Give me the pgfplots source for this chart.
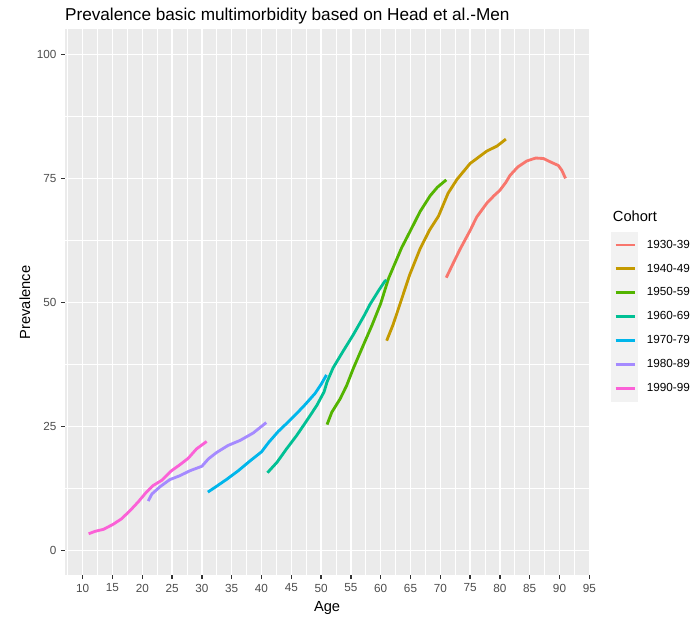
\documentclass[border=0pt]{standalone}
\usepackage{fontspec}
\setmainfont{Liberation Sans}
\usepackage{pgfplots}
\pgfplotsset{compat=1.18}
\definecolor{c1}{HTML}{F8766D}
\definecolor{c2}{HTML}{C49A00}
\definecolor{c3}{HTML}{53B400}
\definecolor{c4}{HTML}{00C094}
\definecolor{c5}{HTML}{00B6EB}
\definecolor{c6}{HTML}{A58AFF}
\definecolor{c7}{HTML}{FB61D7}
\definecolor{panel}{HTML}{EBEBEB}
\definecolor{keybg}{HTML}{F2F2F2}
\definecolor{tickc}{HTML}{333333}
\definecolor{ticklab}{HTML}{4D4D4D}
\begin{document}
\begin{tikzpicture}
\path[use as bounding box] (-48.6pt,-32.6pt) rectangle (476.4pt,431.6pt);
\begin{axis}[
  scale only axis, width=393.4pt, height=409.5pt,
  at={(0pt,0pt)}, anchor=south west,
  xmin=7, xmax=95, ymin=-5, ymax=105,
  axis background/.style={fill=panel},
  axis line style={draw=none},
  xtick={10,15,...,95}, ytick={0,25,50,75,100},
  minor xtick={7.5,12.5,...,92.5}, minor ytick={12.5,37.5,62.5,87.5},
  grid=both,
  major grid style={white, line width=1.07pt},
  minor grid style={white, line width=0.53pt},
  tick align=outside, major tick length=2.75pt, minor tick length=0pt,
  tick style={tickc, line width=1.07pt},
  xtick pos=bottom, ytick pos=left,
  ticklabel style={font=\fontsize{8.8}{10}\selectfont, text=ticklab},
  /pgf/number format/assume math mode=true,
  xlabel={Age}, ylabel={Prevalence},
  label style={font=\fontsize{11}{13}\selectfont},
  xlabel style={at={(axis description cs:0.5,-0.0596)}, anchor=center},
  ylabel style={at={(axis description cs:-0.0759,0.5)}, anchor=center},
  legend style={at={(axis description cs:1.0413,0.6297)}, anchor=north west,
    draw=none, fill=none, inner sep=0pt, outer sep=0pt, row sep=-2.25pt, column sep=0pt,
    nodes={inner sep=0pt, outer sep=0pt, anchor=west, font=\fontsize{8.8}{10}\selectfont, text=black}},
  legend cell align=left,
  legend image code/.code={
    \fill[keybg] (0pt,-9pt) rectangle (18pt,9pt);
    \draw[line width=2.13pt] (2.5pt,0pt) -- (16.75pt,0pt);
    \path (24.75pt,0pt);
  },
  every axis plot/.append style={line width=2.13pt, no markers},
]
\addplot[c1] coordinates {(71,55) (72.2,58) (73.3,60.7) (75,64.5) (76.1,67.2) (77.8,70) (79,71.5) (80,72.6) (81,74.2) (81.7,75.6) (83,77.3) (84.5,78.5) (86,79.1) (87.3,79) (88.5,78.3) (89.8,77.6) (90.4,76.6) (91,75)};
\addlegendentry{1930-39}
\addplot[c2] coordinates {(61,42.3) (62.1,45.6) (63.6,51) (64.9,55.7) (66.6,60.8) (68.2,64.6) (69.7,67.4) (71.3,72) (72.8,74.8) (75,78) (77.8,80.5) (79.5,81.5) (81,82.9)};
\addlegendentry{1940-49}
\addplot[c3] coordinates {(51,25.4) (51.8,27.9) (53.2,30.6) (54.3,33.3) (55.4,36.7) (57.3,42) (58.5,45.3) (60,49.8) (61.3,54.8) (63.5,61) (65,64.5) (66.6,68.3) (68.3,71.5) (69.5,73.2) (71,74.7)};
\addlegendentry{1950-59}
\addplot[c4] coordinates {(41,15.7) (42.6,17.8) (44.2,20.5) (45.9,23.2) (47.6,26.2) (49.3,29.3) (50.5,32) (51,34) (52,36.8) (53.7,40.2) (55.4,43.5) (57.2,47.3) (58.2,49.6) (59.6,52.3) (60.7,54.3) (61,54.5)};
\addlegendentry{1960-69}
\addplot[c5] coordinates {(31,11.8) (32.5,13) (34.2,14.4) (36.1,16.1) (38.1,18.1) (40,19.9) (41.2,21.8) (42.8,24) (44.8,26.3) (47,29) (49,31.7) (50,33.5) (50.9,35.4)};
\addlegendentry{1970-79}
\addplot[c6] coordinates {(21,10) (21.6,11.4) (23,12.9) (24.6,14.3) (26.3,15.1) (28,16.1) (30,17) (31.1,18.5) (32.5,19.8) (34.4,21.2) (36.4,22.2) (38.6,23.7) (40.8,25.8)};
\addlegendentry{1980-89}
\addplot[c7] coordinates {(11,3.4) (12.1,3.9) (13.5,4.3) (15.1,5.3) (16.5,6.4) (17.9,8) (19.3,9.8) (20.7,11.8) (21.8,13.1) (23.3,14.2) (24.9,16.1) (26.3,17.3) (27.7,18.6) (29.1,20.5) (30.8,22)};
\addlegendentry{1990-99}
\end{axis}
\node[anchor=base west, font=\fontsize{12.9}{15}\selectfont, inner sep=0pt] at (0pt,416pt) {Prevalence basic multimorbidity based on Head et al.-Men};
\node[anchor=west, font=\fontsize{11}{13}\selectfont, inner sep=0pt] at (410.9pt,269.1pt) {Cohort};
\end{tikzpicture}
\end{document}
